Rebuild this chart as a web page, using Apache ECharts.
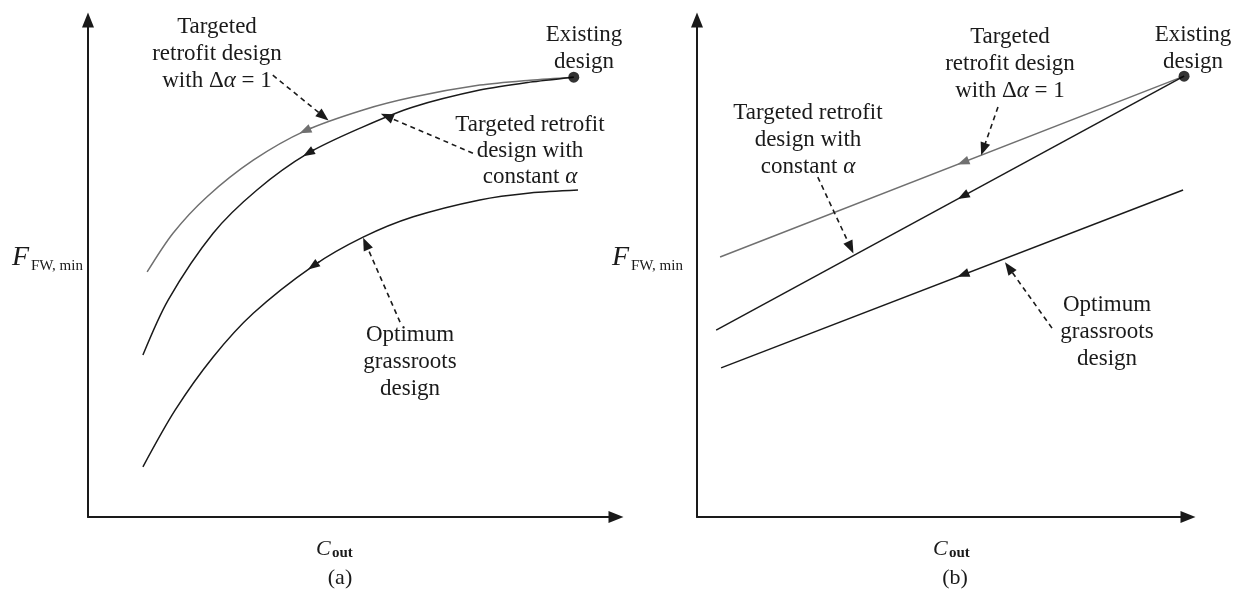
<!DOCTYPE html>
<html><head><meta charset="utf-8">
<script src="https://cdn.jsdelivr.net/npm/echarts/dist/echarts.min.js"></script>
<style>html,body{margin:0;padding:0;background:#fff}#c{width:1238px;height:594px}</style>
</head><body><div id="c"></div>
<script>
// ---------- data (conceptual units 0..100 on both axes) ----------
// Panel (a): curved trajectories
const aRetrofitDelta = [[11.2,49.3],[16.1,57.1],[22.5,64.4],[31.3,71.8],[41.1,77.7],[52.1,81.9],[61.6,84.5],[74.2,86.9],[83.7,87.9],[92.0,88.5]];
const aRetrofitConst = [[10.4,32.6],[15.2,43.7],[23.7,57.1],[32.0,65.8],[41.7,73.2],[52.1,78.5],[61.6,82.5],[74.2,85.9],[83.7,87.5],[92.0,88.5]];
const aGrassroots    = [[10.4,10.1],[16.5,21.5],[23.7,32.2],[31.3,41.0],[42.6,50.5],[52.1,56.3],[61.6,60.4],[74.2,63.8],[83.7,65.2],[92.8,65.8]];
const aExisting      = [[92.0,88.5]];
// Panel (b): straight trajectories
const bRetrofitDelta = [[4.7,52.3],[99.2,88.7]];
const bRetrofitConst = [[3.9,37.6],[99.2,88.7]];
const bGrassroots    = [[4.9,30.0],[99.0,65.8]];
const bExisting      = [[99.2,88.7]];
// text
const yName = ['F', 'FW, min'];
const xName = ['C', 'out'];
const panelTags = ['(a)', '(b)'];
const lblDelta = ['Targeted', 'retrofit design', 'with \u0394\u03b1 = 1'];
const lblConst = ['Targeted retrofit', 'design with', 'constant \u03b1'];
const lblOpt = ['Optimum', 'grassroots', 'design'];
const lblExist = ['Existing', 'design'];

// ---------- helpers ----------
const INK = '#1a1a1a', GRAY = '#707070';
const FONT = 'Liberation Serif';
const FS = 23;
function arrowAtIndex(d, i) {
  const a = d[i-1], b = d[i+1], p = d[i];
  const k = 0.06;
  return [[{coord:[p[0]+(b[0]-a[0])*k, p[1]+(b[1]-a[1])*k]}, {coord:[p[0],p[1]]}]];
}
function arrowOnSegment(d, x) {
  const [p0, p1] = d;
  const t = (x - p0[0]) / (p1[0]-p0[0]);
  const y = p0[1] + t*(p1[1]-p0[1]);
  const s = (p1[1]-p0[1])/(p1[0]-p0[0]);
  return [[{coord:[x+1, y+s]}, {coord:[x, y]}]];
}
function flowArrow(data, color) {
  return {silent:true, animation:false, symbol:['none','triangle'], symbolSize:[9,12],
    label:{show:false}, lineStyle:{color:color, width:1.4, type:'solid'}, emphasis:{disabled:true}, data:data};
}
function dashArrow(from, to) {
  return {silent:true, animation:false, symbol:['none','triangle'], symbolSize:[10,13],
    label:{show:false}, lineStyle:{color:INK, width:1.6, type:[5,4]}, emphasis:{disabled:true},
    data:[[{coord:from},{coord:to}]]};
}
function axisPair(gi) {
  return {type:'value', min:0, max:100, gridIndex:gi, splitLine:{show:false},
    axisTick:{show:false}, axisLabel:{show:false},
    axisLine:{show:true, onZero:false, symbol:['none','triangle'], symbolSize:[12,15],
      lineStyle:{color:INK, width:2}}};
}
function lineSeries(data, color, gi, markLine, smooth) {
  return {type:'line', xAxisIndex:gi, yAxisIndex:gi, data:data, smooth:smooth, showSymbol:false,
    symbol:'none', lineStyle:{color:color, width:1.5}, silent:true, animation:false, markLine:markLine, z:3};
}
function emptyWithMark(gi, ml) {
  return {type:'line', xAxisIndex:gi, yAxisIndex:gi, data:[], markLine:ml, silent:true, z:4};
}
function textBlock(lines, cx, y0, step) {
  return lines.map((t, i) => ({type:'text', silent:true,
    style:{text:t, x:cx, y:y0 + i*step, align:'center', verticalAlign:'middle',
      font:FS + 'px "' + FONT + '"', fill:INK}}));
}

const chart = echarts.init(document.getElementById('c'));
const graphics = [].concat(
  // panel (a) labels
  textBlock(lblDelta, 217, 27, 27),
  textBlock(lblExist, 584, 35, 27),
  textBlock(lblConst, 530, 125, 26),
  textBlock(lblOpt, 410, 335, 27),
  // panel (b) labels
  textBlock(lblDelta, 1010, 37, 27),
  textBlock(lblExist, 1193, 35, 27),
  textBlock(lblConst, 808, 113, 27),
  textBlock(lblOpt, 1107, 305, 27),
  // axis names
  [
    {type:'text', silent:true, style:{text:yName[0], x:12, y:258, verticalAlign:'middle', font:'italic 28px "' + FONT + '"', fill:INK}},
    {type:'text', silent:true, style:{text:yName[1], x:31, y:266, verticalAlign:'middle', font:'15px "' + FONT + '"', fill:INK}},
    {type:'text', silent:true, style:{text:yName[0], x:612, y:258, verticalAlign:'middle', font:'italic 28px "' + FONT + '"', fill:INK}},
    {type:'text', silent:true, style:{text:yName[1], x:631, y:266, verticalAlign:'middle', font:'15px "' + FONT + '"', fill:INK}},
    {type:'text', silent:true, style:{text:xName[0], x:316, y:549, verticalAlign:'middle', font:'italic 22px "' + FONT + '"', fill:INK}},
    {type:'text', silent:true, style:{text:xName[1], x:332, y:553, verticalAlign:'middle', font:'bold 15px "' + FONT + '"', fill:INK}},
    {type:'text', silent:true, style:{text:xName[0], x:933, y:549, verticalAlign:'middle', font:'italic 22px "' + FONT + '"', fill:INK}},
    {type:'text', silent:true, style:{text:xName[1], x:949, y:553, verticalAlign:'middle', font:'bold 15px "' + FONT + '"', fill:INK}},
    {type:'text', silent:true, style:{text:panelTags[0], x:340, y:578, align:'center', verticalAlign:'middle', font:'22px "' + FONT + '"', fill:INK}},
    {type:'text', silent:true, style:{text:panelTags[1], x:955, y:578, align:'center', verticalAlign:'middle', font:'22px "' + FONT + '"', fill:INK}}
  ]
);
// italic α via rich text
graphics.forEach(g => {
  const t = g.style.text;
  if (t.indexOf('\u03b1') >= 0) {
    const parts = t.split('\u03b1');
    g.style.text = '{n|' + parts[0] + '}{i|\u03b1}' + (parts[1] ? '{n|' + parts[1] + '}' : '');
    g.style.rich = {n:{font:FS + 'px "' + FONT + '"', fill:INK}, i:{font:'italic ' + FS + 'px "' + FONT + '"', fill:INK}};
  }
});

const option = {
  animation:false,
  backgroundColor:'#ffffff',
  grid:[
    {left:88, top:20, width:528, height:497},
    {left:697, top:20, width:491, height:497}
  ],
  xAxis:[axisPair(0), axisPair(1)],
  yAxis:[axisPair(0), axisPair(1)],
  series:[
    // panel (a)
    lineSeries(aRetrofitDelta, GRAY, 0, flowArrow(arrowAtIndex(aRetrofitDelta,4), GRAY), 0.3),
    lineSeries(aRetrofitConst, INK, 0, flowArrow(arrowAtIndex(aRetrofitConst,4), INK), 0.3),
    lineSeries(aGrassroots, INK, 0, flowArrow(arrowAtIndex(aGrassroots,4), INK), 0.3),
    {type:'scatter', xAxisIndex:0, yAxisIndex:0, data:aExisting, symbolSize:11, itemStyle:{color:'#000'}, silent:true, z:5},
    emptyWithMark(0, dashArrow([35.0,88.9],[44.6,80.6])),
    emptyWithMark(0, dashArrow([72.9,73.2],[56.6,80.6])),
    emptyWithMark(0, dashArrow([59.1,39.2],[52.6,55.0])),
    // panel (b)
    lineSeries(bRetrofitDelta, GRAY, 1, flowArrow(arrowOnSegment(bRetrofitDelta,54.2), GRAY), false),
    lineSeries(bRetrofitConst, INK, 1, flowArrow(arrowOnSegment(bRetrofitConst,54.2), INK), false),
    lineSeries(bGrassroots, INK, 1, flowArrow(arrowOnSegment(bGrassroots,54.2), INK), false),
    {type:'scatter', xAxisIndex:1, yAxisIndex:1, data:bExisting, symbolSize:11, itemStyle:{color:'#000'}, silent:true, z:5},
    emptyWithMark(1, dashArrow([61.3,82.5],[58.3,74.0])),
    emptyWithMark(1, dashArrow([24.6,68.4],[31.3,54.2])),
    emptyWithMark(1, dashArrow([72.3,38.0],[63.5,50.2]))
  ],
  graphic:{elements:graphics}
};
chart.setOption(option);
</script>
</body></html>
